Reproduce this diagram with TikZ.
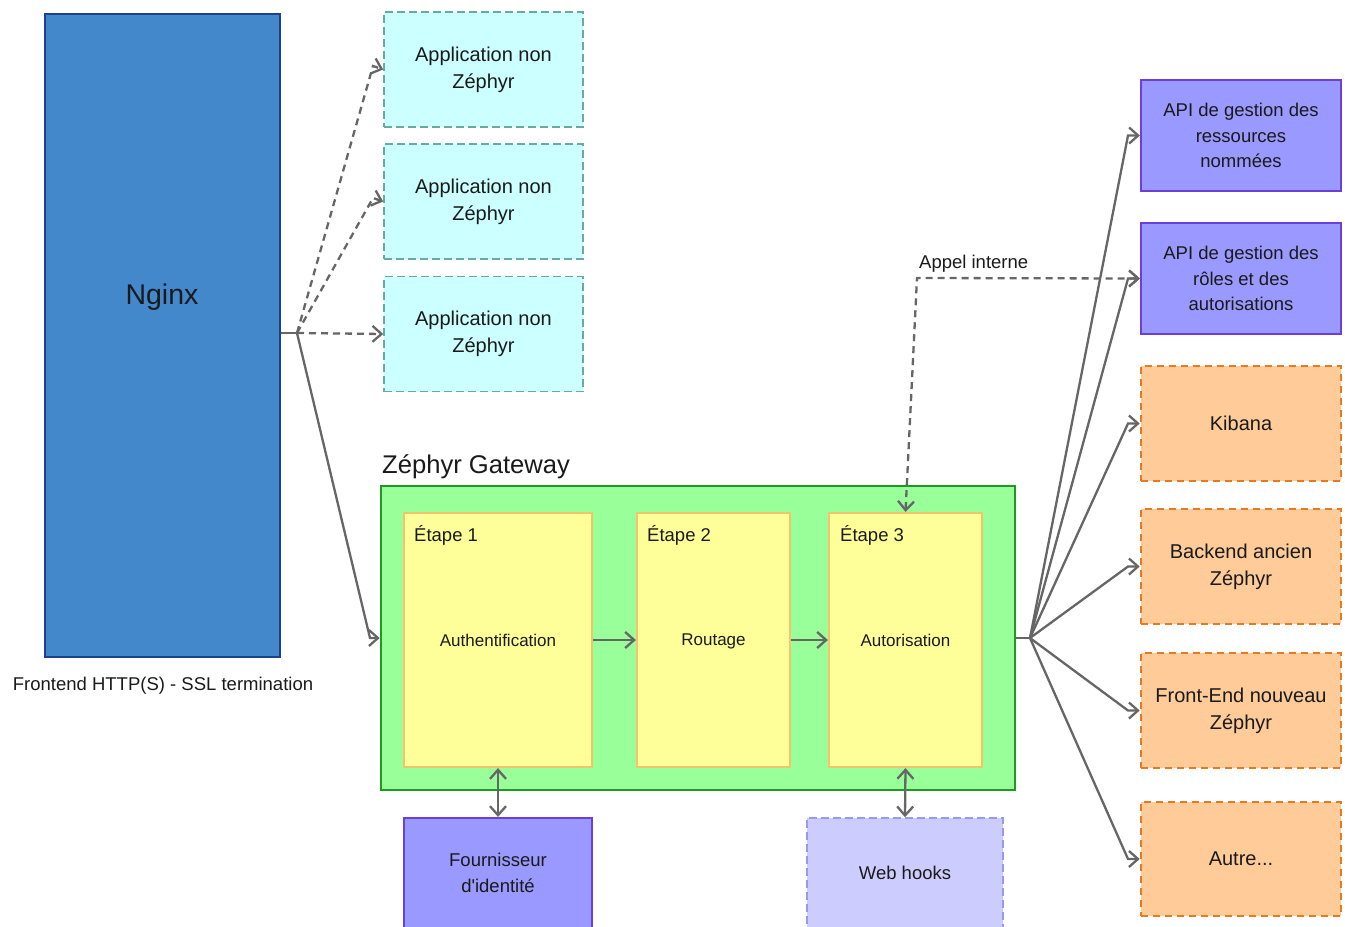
\documentclass[tikz,border=0pt]{standalone}
\usepackage{fontspec}
\setmainfont{Liberation Sans}[Ligatures=TeXOff]
\usetikzlibrary{arrows.meta}

\definecolor{ngfill}{HTML}{4488CC}
\definecolor{ngline}{HTML}{1F3F8F}
\definecolor{appfill}{HTML}{CCFFFF}
\definecolor{appline}{HTML}{67AB9F}
\definecolor{gwfill}{HTML}{99FF99}
\definecolor{gwline}{HTML}{1E9A1E}
\definecolor{stfill}{HTML}{FFFF99}
\definecolor{stline}{HTML}{F2C46E}
\definecolor{apifill}{HTML}{9999FF}
\definecolor{apiline}{HTML}{6A3FDB}
\definecolor{orfill}{HTML}{FFCC99}
\definecolor{orline}{HTML}{E57A22}
\definecolor{whfill}{HTML}{CCCCFF}
\definecolor{whline}{HTML}{9999EE}
\definecolor{conncol}{HTML}{666666}
\definecolor{txt}{HTML}{1A1A1A}

\begin{document}
\begin{tikzpicture}[x=1pt,y=-1pt,
  chev/.tip={Straight Barb[length=9pt,width=16pt]},
  box/.style={rectangle, inner sep=0pt, align=center, text=txt},
  ngbox/.style={box, fill=ngfill, draw=ngline, line width=2.2pt},
  appbox/.style={box, fill=appfill, draw=appline, line width=1.6pt,
    dash pattern=on 8pt off 4pt, minimum width=199pt, minimum height=115pt,
    font=\fontsize{20}{27}\selectfont},
  gwbox/.style={box, fill=gwfill, draw=gwline, line width=2.6pt},
  stbox/.style={box, fill=stfill, draw=stline, line width=2.2pt,
    minimum height=254pt, font=\fontsize{17}{22}\selectfont},
  stlabel/.style={inner sep=0pt, anchor=west, text=txt, font=\fontsize{18.5}{22}\selectfont},
  apibox/.style={box, fill=apifill, draw=apiline, line width=2.2pt,
    minimum width=200pt, minimum height=111pt, font=\fontsize{18.5}{25.5}\selectfont},
  orbox/.style={box, fill=orfill, draw=orline, line width=2.6pt,
    dash pattern=on 7pt off 5pt, minimum width=200pt, minimum height=115pt,
    font=\fontsize{20}{27}\selectfont},
  conn/.style={draw=conncol, line width=2.3pt, -{chev}},
  dconn/.style={conn, dash pattern=on 7pt off 5pt},
  plain/.style={draw=conncol, line width=2.3pt}
]
\useasboundingbox (0,0) rectangle (1345,927);

% Nginx front
\node[ngbox, minimum width=235pt, minimum height=643pt] (ng) at (162.5,335.5) {};
\node[inner sep=0pt, text=txt, font=\fontsize{28.5}{32}\selectfont] (ngt) at (162,297) {Nginx};
\node[inner sep=0pt, text=txt, font=\fontsize{18.5}{22}\selectfont] (nglab) at (163,686)
  {Frontend HTTP(S) - SSL termination};

% Applications outside the gateway
\node[appbox] (app1) at (483.5,69.5) {Application non\\Zéphyr};
\node[appbox] (app2) at (483.5,201.5) {Application non\\Zéphyr};
\node[appbox] (app3) at (483.5,334) {Application non\\Zéphyr};

% Gateway with its stages
\node[inner sep=0pt, anchor=west, text=txt, font=\fontsize{25.6}{30}\selectfont] (gwlab)
  at (382,467) {Zéphyr Gateway};
\node[gwbox, minimum width=634pt, minimum height=304pt] (gw) at (698,638) {};
\node[stbox, minimum width=188pt] (st1) at (498,640) {Authentification};
\node[stbox, minimum width=153pt, text depth=0pt] (st2) at (713.5,640) {Routage};
\node[stbox, minimum width=153pt] (st3) at (905.5,640) {Autorisation};
\node[stlabel] (st1l) at (414,535) {Étape 1};
\node[stlabel] (st2l) at (647,535) {Étape 2};
\node[stlabel] (st3l) at (840,535) {Étape 3};

% Services below the gateway
\node[apibox, minimum width=188pt, minimum height=110pt] (idp) at (498,873)
  {Fournisseur\\d'identité};
\node[box, fill=whfill, draw=whline, line width=1.6pt, dash pattern=on 8pt off 4pt,
  minimum width=196pt, minimum height=110pt, font=\fontsize{18.5}{22}\selectfont]
  (wh) at (905,873) {Web hooks};

% Backends on the right
\node[apibox] (api1) at (1241,135.5) {API de gestion des\\ressources\\nommées};
\node[apibox] (api2) at (1241,278.5) {API de gestion des\\rôles et des\\autorisations};
\node[orbox] (kib) at (1241,423.5) {Kibana};
\node[orbox] (bck) at (1241,566.5) {Backend ancien\\Zéphyr};
\node[orbox] (fe) at (1241,710.5) {Front-End nouveau\\Zéphyr};
\node[orbox, minimum height=114pt] (oth) at (1241,859) {Autre...};

% Nginx fan-out
\coordinate (nj) at (297,333);
\draw[plain] (ng.east |- nj) -- (nj);
\draw[dconn] (nj) -- (373,66) -- (app1.west);
\draw[dconn] (nj) -- (373,198) -- (app2.west);
\draw[dconn] (nj) -- (app3.west);
\draw[conn] (nj) -- (370,638) -- (gw.west);

% Pipeline inside the gateway
\draw[conn] (st1.east) -- (st2.west);
\draw[conn] (st2.east) -- (st3.west);
\draw[conn, {chev}-{chev}] (st1.south) -- (idp.north);
\draw[conn, {chev}-{chev}] (st3.south) -- (wh.north);

% Internal call to the roles API
\draw[dconn, {chev}-{chev}] (st3.north) -- (917,278) -- (api2.west);
\node[inner sep=0pt, anchor=west, text=txt, font=\fontsize{18.5}{22}\selectfont] (callab)
  at (919,264) {Appel interne};

% Gateway fan-out
\coordinate (gj) at (1030,638);
\draw[plain] (gw.east) -- (gj);
\draw[conn] (gj) -- (1128,135.5) -- (api1.west);
\draw[conn] (gj) -- (1128,278.5) -- (api2.west);
\draw[conn] (gj) -- (1128,423.5) -- (kib.west);
\draw[conn] (gj) -- (1128,566.5) -- (bck.west);
\draw[conn] (gj) -- (1128,710.5) -- (fe.west);
\draw[conn] (gj) -- (1128,859) -- (oth.west);
\end{tikzpicture}
\end{document}
